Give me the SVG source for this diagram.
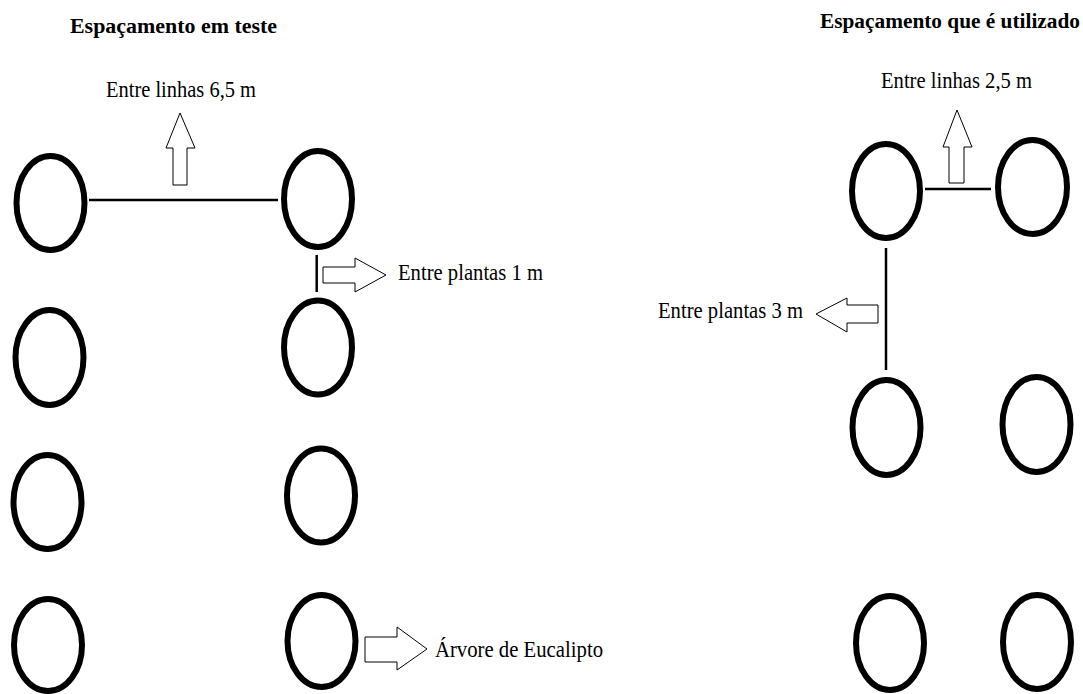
<svg xmlns="http://www.w3.org/2000/svg" width="1083" height="694" viewBox="0 0 1083 694">
<style>
.tree{fill:none;stroke:#000;stroke-width:6}
.ln{stroke:#000;stroke-width:2.5;fill:none}
.arr{fill:#fff;stroke:#000;stroke-width:1}
.t{font-family:"Liberation Serif","DejaVu Serif",serif;font-size:23px;font-weight:normal;fill:#000}
.h{font-family:"Liberation Serif","DejaVu Serif",serif;font-size:20px;font-weight:bold;fill:#000}
</style>
<rect width="1083" height="694" fill="#fff"/>
<g id="titles">
<text class="h" x="70" y="33" textLength="207" lengthAdjust="spacingAndGlyphs">Espaçamento em teste</text>
<text class="h" x="820" y="28" textLength="260" lengthAdjust="spacingAndGlyphs">Espaçamento que é utilizado</text>
</g>
<g id="trees-test">
<ellipse id="t1" class="tree" cx="50.5" cy="203" rx="34" ry="47"/>
<ellipse id="t2" class="tree" cx="318" cy="199" rx="34" ry="48"/>
<ellipse id="t3" class="tree" cx="49.5" cy="357.5" rx="34" ry="47.5"/>
<ellipse id="t4" class="tree" cx="318" cy="347.5" rx="34" ry="47"/>
<ellipse id="t5" class="tree" cx="47.5" cy="502" rx="34" ry="47"/>
<ellipse id="t6" class="tree" cx="321" cy="495.5" rx="34" ry="47"/>
<ellipse id="t7" class="tree" cx="48" cy="645" rx="34" ry="46"/>
<ellipse id="t8" class="tree" cx="321.5" cy="641" rx="34" ry="46"/>
</g>
<g id="trees-used">
<ellipse id="u1" class="tree" cx="886" cy="191" rx="34" ry="47"/>
<ellipse id="u2" class="tree" cx="1032.5" cy="187" rx="34.5" ry="47"/>
<ellipse id="u3" class="tree" cx="886.5" cy="427.5" rx="34" ry="47.5"/>
<ellipse id="u4" class="tree" cx="1036.5" cy="424.5" rx="34" ry="47.5"/>
<ellipse id="u5" class="tree" cx="890" cy="643" rx="34" ry="47"/>
<ellipse id="u6" class="tree" cx="1037" cy="642" rx="34" ry="47"/>
</g>
<g id="connectors">
<line class="ln" x1="89" y1="200" x2="278" y2="200"/>
<line class="ln" x1="316.7" y1="255" x2="316.7" y2="292"/>
<line class="ln" x1="925" y1="189" x2="991" y2="189"/>
<line class="ln" x1="886" y1="248" x2="886" y2="370"/>
<polygon class="arr" points="173,185 173,148 166,148 180,113 195,148 187,148 187,185"/>
<polygon class="arr" points="323,267 355,267 355,258 386,275 355,292 355,283 323,283"/>
<polygon class="arr" points="365,637 397,637 397,627 427,649 397,670 397,662 365,662"/>
<polygon class="arr" points="949,183 949,147 943,147 957,110 972,147 964,147 964,183"/>
<polygon class="arr" points="878,305 847,305 847,298 816,314 847,332 847,323 878,323"/>
</g>
<g id="labels">
<text class="t" x="106" y="97" textLength="150" lengthAdjust="spacingAndGlyphs">Entre linhas 6,5 m</text>
<text class="t" x="398" y="280" textLength="145" lengthAdjust="spacingAndGlyphs">Entre plantas 1 m</text>
<text class="t" x="435" y="657" textLength="168" lengthAdjust="spacingAndGlyphs">Árvore de Eucalipto</text>
<text class="t" x="881" y="88" textLength="151" lengthAdjust="spacingAndGlyphs">Entre linhas 2,5 m</text>
<text class="t" x="658" y="318" textLength="145" lengthAdjust="spacingAndGlyphs">Entre plantas 3 m</text>
</g>
</svg>
